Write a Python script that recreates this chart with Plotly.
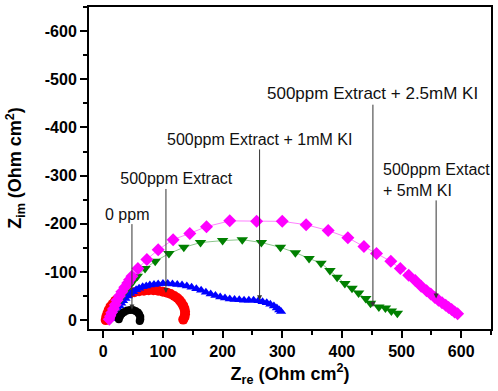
import plotly.graph_objects as go

# ---------------- data ----------------
x_ticks = [0, 100, 200, 300, 400, 500, 600]
y_ticks = [0, -100, -200, -300, -400, -500, -600]

ppm0_zre = [26, 28, 31, 35, 40, 45, 50, 54, 58, 60, 62, 62, 61]
ppm0_zim = [-2, -8, -13, -17, -20, -21, -21, -19, -16, -12, -7, -2, 2]

ext_zre = [4, 5, 7, 9, 12, 16, 20, 25, 31, 38, 45, 52, 60, 68, 76, 84, 92, 100, 107, 113,
           119, 124, 128, 131, 134, 136, 137, 137, 136, 134]
ext_zim = [0, -7, -14, -21, -28, -34, -40, -45, -49, -53, -56, -58, -60, -61, -62, -62, -61,
           -59, -57, -54, -50, -46, -41, -36, -30, -24, -18, -12, -6, -1]

ki1_zre = [15, 17, 19, 21, 24, 27, 30, 33, 37, 41, 45, 50, 55, 60, 66, 72, 78, 85, 92, 100,
           108, 116, 124, 132, 140, 148, 156, 164, 172, 180, 188, 196, 204, 212, 220, 228,
           236, 244, 252, 260, 267, 274, 280, 286, 291, 295, 298]
ki1_zim = [-3, -8, -14, -19, -25, -30, -35, -40, -45, -50, -55, -59, -63, -66, -69, -71, -73,
           -74, -75, -76, -76, -75, -74, -73, -71, -68, -65, -62, -58, -54, -51, -48, -46,
           -44, -43, -42, -41, -41, -41, -40, -38, -36, -33, -29, -25, -21, -18]

ki25_zre = [12, 14, 17, 20, 24, 28, 33, 38, 44, 50, 57, 70, 87, 110, 135, 163, 200, 233, 265,
            297, 322, 345, 365, 380, 392, 405, 417, 428, 440, 448, 462, 473, 483, 493]
ki25_zim = [-2, -9, -17, -26, -35, -44, -54, -63, -72, -81, -91, -107, -122, -138, -151, -161,
            -165, -167, -161, -151, -140, -128, -118, -103, -89, -76, -66, -56, -45, -35, -27,
            -25, -19, -14]

ki5_zre = [10, 12, 14, 17, 20, 23, 27, 31, 36, 41, 44, 48, 58, 73, 92, 117, 145, 173, 212, 257,
           300, 340, 377, 410, 437, 458, 482, 498, 512, 523, 533, 542, 549, 556, 562, 568, 574,
           579, 584, 589, 594]
ki5_zim = [-2, -8, -15, -23, -32, -41, -50, -59, -68, -77, -84, -91, -107, -126, -146, -167,
           -180, -194, -206, -205, -205, -198, -186, -171, -153, -138, -122, -107, -93, -82,
           -70, -61, -54, -47, -41, -36, -31, -26, -22, -17, -13]

labels = ["0 ppm&nbsp;&nbsp;", "&nbsp;&nbsp;&nbsp;&nbsp;&nbsp;500ppm Extract",
          "500ppm Extract + 1mM KI", "500ppm Extract + 2.5mM KI",
          "500ppm Extact<br>+ 5mM KI"]
label_size = [16, 16, 16, 17, 16]
# arrow tips and label centres (arrow tails), data coords
arrow_x = [48, 105, 262, 452, 558]
arrow_tip = [-22, -56, -41, -27, -45]
label_y = [-220, -293, -375, -470, -291]

FONT = "Liberation Sans, Arial, sans-serif"

fig = go.Figure()

fig.add_trace(go.Scatter(x=ext_zre, y=ext_zim, mode="markers",
                         marker=dict(symbol="circle", size=10, color="#FF0000"),
                         showlegend=False))
fig.add_trace(go.Scatter(x=ki1_zre, y=ki1_zim, mode="lines+markers",
                         line=dict(color="rgba(0,0,255,0.5)", width=1),
                         marker=dict(symbol="triangle-up", size=9, color="#0000FF"),
                         showlegend=False))
fig.add_trace(go.Scatter(x=ki25_zre, y=ki25_zim, mode="lines+markers",
                         line=dict(color="rgba(0,128,0,0.45)", width=1),
                         marker=dict(symbol="triangle-down", size=10, color="#008000"),
                         showlegend=False))
fig.add_trace(go.Scatter(x=ki5_zre, y=ki5_zim, mode="lines+markers",
                         line=dict(color="rgba(255,0,255,0.5)", width=1),
                         marker=dict(symbol="diamond", size=10, color="#FF00FF"),
                         showlegend=False))
fig.add_trace(go.Scatter(x=ppm0_zre, y=ppm0_zim, mode="markers",
                         marker=dict(symbol="circle", size=8, color="#000000"),
                         showlegend=False))

annotations = []
for i in range(len(labels)):
    annotations.append(dict(x=arrow_x[i], y=arrow_tip[i], ax=arrow_x[i], ay=label_y[i],
                            xref="x", yref="y", axref="x", ayref="y", text=labels[i],
                            showarrow=True, arrowhead=2, arrowsize=1, arrowwidth=1,
                            arrowcolor="#333333", align="left", borderpad=1,
                            font=dict(family=FONT, size=label_size[i], color="#111111")))

axis_common = dict(showline=True, linewidth=2, linecolor="black", mirror=True,
                   ticks="outside", ticklen=7, tickwidth=1.5, tickcolor="black",
                   showgrid=False, zeroline=False,
                   tickfont=dict(family=FONT, size=16, color="black", weight="bold"),
                   minor=dict(ticks="outside", ticklen=4, tickwidth=1.5, tickcolor="black",
                              dtick=50, showgrid=False))

fig.update_layout(
    width=498, height=391,
    margin=dict(l=89, r=5, t=5, b=62),
    paper_bgcolor="white", plot_bgcolor="white",
    annotations=annotations,
    xaxis=dict(range=[-24, 650], tickvals=x_ticks, ticktext=[str(v) for v in x_ticks],
               title=dict(text="Z<sub>re</sub> (Ohm cm<sup>2</sup>)", standoff=8,
                          font=dict(family=FONT, size=18, color="black", weight="bold")),
               **axis_common),
    yaxis=dict(range=[18.5, -650], tickvals=y_ticks, ticktext=[str(v) for v in y_ticks],
               title=dict(text="Z<sub>im</sub> (Ohm cm<sup>2</sup>)", standoff=18,
                          font=dict(family=FONT, size=18, color="black", weight="bold")),
               **axis_common),
)

fig.write_html("out.html", config={"displayModeBar": False},
               post_script="document.body.style.margin='0';document.body.style.overflow='hidden';")
